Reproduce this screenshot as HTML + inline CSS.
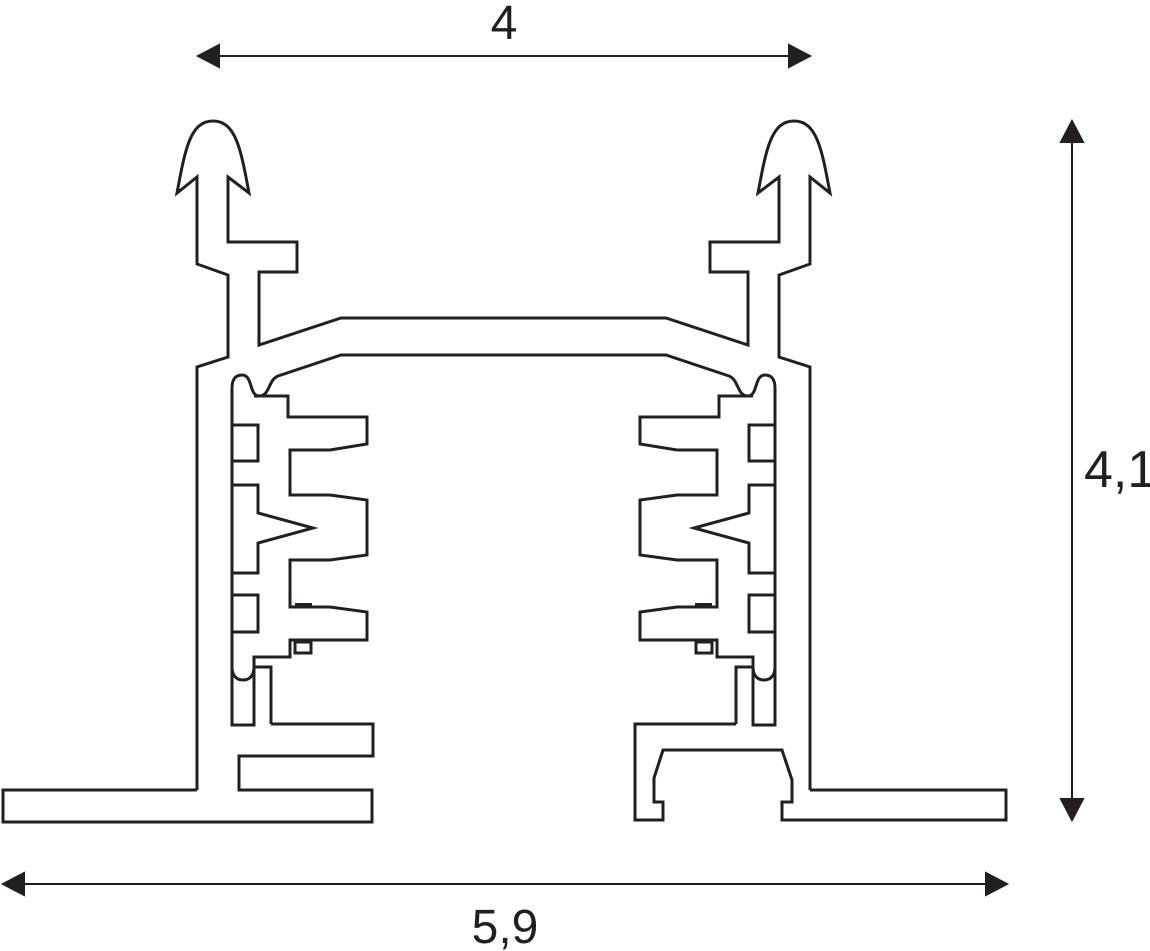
<!DOCTYPE html>
<html><head><meta charset="utf-8"><style>
html,body{margin:0;padding:0;background:#fff;}
svg{display:block}
text{font-family:"Liberation Sans",sans-serif;fill:#231f20}
</style></head><body>
<svg width="1150" height="951" viewBox="0 0 1150 951" xmlns="http://www.w3.org/2000/svg">
<defs>
<g id="half" fill="none" stroke="#231f20" stroke-width="3" stroke-linejoin="miter">
  <path d="M197,790 L197,367 L228,357 L228,275 L197,264 L197,177 L177,193 C185,150 190,121 213,121 C236,121 241,150 249,193 L228,177 L228,242 L297,242 L297,272 L259,272 L259,345 L341,318 L504,318"/>
  <path d="M504,355 L341,355 L278,376 C268,380 270,396 259,396 C249,396 253,375 242,375 C235,375 232,380 232,388 L232,725 L254,725 L254,667 L271,667 L271,724"/>
  <path d="M254,396 L288,396 L288,417 L367,417 L367,444 L330,450 L290,450 L290,495 L330,495 L367,500 L367,555 L330,560 L290,560 L290,607 L330,607 L367,612 L367,640 L290,640 L290,657 L254,657 L254,667"/>
  <path d="M232,667 C232,675 236,680 243,680 C250,680 254,675 254,667"/>
  <path d="M232,425 L258,425 L258,461 L232,461"/>
  <path d="M232,485 L258,485 L258,513 L313,528 L258,543 L258,573 L232,573"/>
  <path d="M232,595 L258,595 L258,632 L232,632"/>
  <rect x="295" y="642" width="16" height="11"/>
  <line x1="295" y1="605" x2="312" y2="605" stroke-width="4"/>
</g>
</defs>
<use href="#half"/>
<use href="#half" transform="translate(1007,0) scale(-1,1)"/>
<g fill="none" stroke="#231f20" stroke-width="3">
  <path d="M271,724 L373,724 L373,756 L239,756 L239,790 L372,790 L372,822 L3,822 L3,790 L197,790"/>
  <path d="M736,724 L635,724 L635,820 L663,820 L663,802 L654,802 L654,778 L663,750 L782,750 L792,780 L792,802 L782,802 L782,820 L1006,820 L1006,790 L810,790"/>
</g>
<g stroke="#231f20" stroke-width="2" fill="#231f20">
  <line x1="210" y1="56" x2="798" y2="56"/>
  <path d="M198,56 L219,45 L219,67 Z"/>
  <path d="M810,56 L789,45 L789,67 Z"/>
  <line x1="1072" y1="132" x2="1072" y2="808"/>
  <path d="M1072,121 L1061,142 L1083,142 Z"/>
  <path d="M1072,820 L1061,799 L1083,799 Z"/>
  <line x1="14" y1="884" x2="995" y2="884"/>
  <path d="M3,884 L24,873 L24,895 Z"/>
  <path d="M1007,884 L986,873 L986,895 Z"/>
</g>
<text x="504" y="39" font-size="48" text-anchor="middle">4</text>
<text x="1084" y="487" font-size="52">4,1</text>
<text x="505" y="943" font-size="48" text-anchor="middle">5,9</text>
</svg>
</body></html>
